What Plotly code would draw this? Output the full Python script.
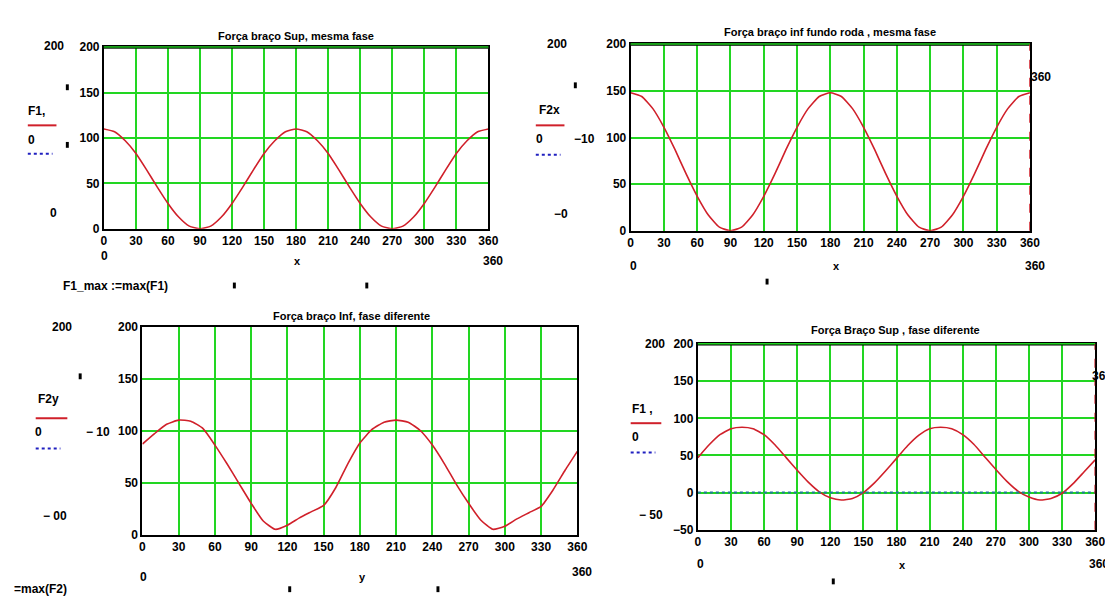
import plotly.graph_objects as go

# ---------------- data ----------------
angle_deg = [0, 10, 20, 30, 40, 50, 60, 70, 80, 90, 100, 110, 120, 130, 140, 150, 160, 170, 180,
             190, 200, 210, 220, 230, 240, 250, 260, 270, 280, 290, 300, 310, 320, 330, 340, 350, 360]

f1_same_phase = [110, 107, 97, 83, 65, 46, 28, 13, 3, 0, 3, 13, 28, 46, 65, 83, 97, 107, 110,
                 107, 97, 83, 65, 46, 28, 13, 3, 0, 3, 13, 28, 46, 65, 83, 97, 107, 110]

f2x_same_phase = [148, 144, 131, 111, 87, 61, 37, 17, 4, 0, 4, 17, 37, 61, 87, 111, 131, 144, 148,
                  144, 131, 111, 87, 61, 37, 17, 4, 0, 4, 17, 37, 61, 87, 111, 131, 144, 148]

f2y_diff_phase = [87, 97, 106, 110, 109, 102, 86, 68, 49, 30, 13, 5, 9, 16, 22, 28, 45, 68, 88,
                  101, 108, 110, 108, 100, 86, 68, 48, 30, 14, 5, 8, 15, 21, 27, 43, 62, 80]

f1_diff_phase = [47, 64, 78, 86, 88, 86, 78, 64, 47, 30, 14, 1, -7, -10, -8, 0, 13, 29, 46,
                 63, 77, 86, 88, 86, 78, 65, 48, 31, 15, 2, -6, -10, -8, -1, 12, 28, 44]

zero_x = [0, 360]
zero_level = [0, 0]

x_ticks = [0, 30, 60, 90, 120, 150, 180, 210, 240, 270, 300, 330, 360]
y_ticks_a = [0, 50, 100, 150, 200]
y_ticks_b = [-50, 0, 50, 100, 150, 200]

titles = ["Força braço Sup, mesma fase",
          "Força braço inf fundo roda , mesma fase",
          "Força braço Inf, fase diferente",
          "Força Braço Sup , fase diferente"]

# ---------------- layout geometry (pixels) ----------------
W, H = 1113, 597
boxes = [(94, 483, 33, 219), (627, 1031, 30, 221), (133, 573, 319, 532), (695, 1097, 337, 527)]
yranges = [[0, 200], [0, 200], [0, 200], [-50, 200]]
yticks = [y_ticks_a, y_ticks_a, y_ticks_a, y_ticks_b]
series = [f1_same_phase, f2x_same_phase, f2y_diff_phase, f1_diff_phase]
green_top = [True, True, False, True]

FONT = "Liberation Sans Narrow, Arial Narrow, Liberation Sans, Arial"
RED = "#d0202a"
GREEN = "#22d622"
BLUE = "#2020c0"

fig = go.Figure()
layout = dict(width=W, height=H, margin=dict(l=0, r=0, t=0, b=0),
              paper_bgcolor="white", plot_bgcolor="white", showlegend=False)

shapes = []
annotations = []

for i, (x0, x1, y0, y1) in enumerate(boxes):
    n = "" if i == 0 else str(i + 1)
    xa, ya = "x" + n, "y" + n
    fig.add_trace(go.Scatter(x=angle_deg, y=series[i], mode="lines", xaxis=xa, yaxis=ya,
                             line=dict(color=RED, width=1.6, shape="spline", smoothing=0.5)))
    if i == 3:
        # the constant 0 series is only visible where it is not hidden by the bottom axis
        fig.add_trace(go.Scatter(x=zero_x, y=zero_level, mode="lines", xaxis=xa, yaxis=ya,
                                 line=dict(color="#207a9a", width=2, dash="dot")))
    common = dict(showgrid=True, gridcolor=GREEN, gridwidth=2, showline=True, linecolor="black",
                  linewidth=2, mirror=True, zeroline=False, ticks="",
                  tickfont=dict(family=FONT, size=12, color="black", weight="bold"))
    layout["xaxis" + n] = dict(domain=[x0 / W, x1 / W], range=[0, 360], tickvals=x_ticks,
                               anchor=ya, **common)
    layout["yaxis" + n] = dict(domain=[1 - y1 / H, 1 - y0 / H], range=yranges[i],
                               tickvals=yticks[i], anchor=xa, **common)
    if green_top[i]:
        # green top gridline drawn over the frame, as in the reference
        shapes.append(dict(type="line", xref=xa + " domain", yref=ya + " domain", x0=0, x1=1,
                           y0=1, y1=1, layer="above", line=dict(color=GREEN, width=2)))
        shapes.append(dict(type="line", xref=xa + " domain", yref=ya + " domain", x0=0, x1=1,
                           y0=0.995, y1=0.995, layer="above", line=dict(color="black", width=1)))


def txt(text, x, y, size=12, anchor="center"):
    annotations.append(dict(text=text, x=x / W, y=1 - y / H, xref="paper", yref="paper",
                            showarrow=False, xanchor=anchor, yanchor="middle",
                            font=dict(family=FONT, size=size, color="black", weight="bold")))


def seg(xa, xb, y, color, dash="solid", width=2):
    shapes.append(dict(type="line", xref="paper", yref="paper", x0=xa / W, x1=xb / W,
                       y0=1 - y / H, y1=1 - y / H, line=dict(color=color, width=width, dash=dash)))


def mark(x, y):
    shapes.append(dict(type="rect", xref="paper", yref="paper", x0=(x - 1.5) / W, x1=(x + 1.5) / W,
                       y0=1 - (y + 3) / H, y1=1 - (y - 3) / H, fillcolor="black",
                       line=dict(width=0)))


# titles
txt(titles[0], 288, 21, 11)
txt(titles[1], 829, 17, 11)
txt(titles[2], 345, 308, 11)
txt(titles[3], 895, 323, 11)

# plot 1 side labels
txt("200", 44, 32)
mark(57, 74)
mark(57, 133)
txt("F1,", 26, 98)
seg(17, 46, 113, RED)
txt("0", 21, 128)
seg(17, 42, 142, BLUE, "dot")
txt("0", 43, 203)
txt("0", 95, 247)
txt("x", 290, 252, 11)
txt("360", 488, 252)
txt("F1_max :=max(F1)", 106, 277)
mark(226, 277)
mark(360, 277)

# plot 2 side labels
txt("200", 552, 30)
mark(571, 72)
txt("F2x", 545, 97)
seg(531, 560, 113, RED)
txt("0", 535, 127)
txt("−10", 580, 127)
seg(531, 556, 143, BLUE, "dot")
txt("−0", 556, 204)
txt("0", 630, 257)
txt("x", 835, 257, 11)
txt("360", 1036, 257)
mark(765, 273)
txt("360", 1042, 63)

# plot 3 side labels
txt("200", 52, 319)
mark(70, 370)
txt("F2y", 38, 393)
seg(25, 57, 413, RED)
txt("0", 28, 427)
txt("− 10", 88, 427)
seg(25, 50, 444, BLUE, "dot")
txt("− 00", 45, 513)
txt("0", 134, 575)
txt("y", 356, 575, 11)
txt("360", 578, 570)
txt("=max(F2)", 1, 588, 12, "left")
mark(282, 588)
mark(432, 588)

# plot 4 side labels
txt("200", 652, 337)
txt("F1 ,", 639, 403)
seg(627, 658, 418, RED)
txt("0", 632, 432)
seg(627, 652, 448, BLUE, "dot")
txt("− 50", 648, 512)
txt("0", 698, 562)
txt("x", 902, 563, 11)
txt("360", 1101, 562)
mark(832, 580)
txt("360", 1104, 370)

# red dashed x-marker on the right edge of plots 2 and 4
for n in ["2", "4"]:
    shapes.append(dict(type="line", xref="x" + n, yref="y" + n + " domain", x0=360, x1=360,
                       y0=0, y1=1, layer="above", line=dict(color=RED, width=1.5, dash="dash")))

layout["annotations"] = annotations
layout["shapes"] = shapes
fig.update_layout(**layout)
fig.write_html("out.html")
